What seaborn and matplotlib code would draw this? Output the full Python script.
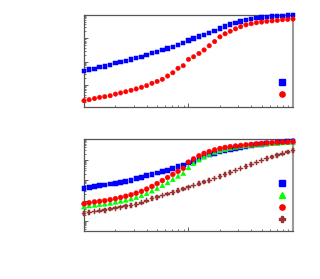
import numpy as np
import pandas as pd
import seaborn as sns
import matplotlib.pyplot as plt
from matplotlib.lines import Line2D
from matplotlib.ticker import LogLocator, NullFormatter

# x grid (shared by every series)
x_vals = [0.1, 0.112, 0.126, 0.141, 0.158, 0.178, 0.2, 0.224, 0.251, 0.282,
          0.316, 0.355, 0.398, 0.447, 0.501, 0.562, 0.631, 0.708, 0.794, 0.891,
          1.0, 1.12, 1.26, 1.41, 1.58, 1.78, 2.0, 2.24, 2.51, 2.82,
          3.16, 3.55, 3.98, 4.47, 5.01, 5.62, 6.31, 7.08, 7.94, 8.91, 10.0]

# y values, given as log10(y)
top_blue = [-2.40, -2.34, -2.30, -2.23, -2.20, -2.13, -2.06, -2.01, -1.96, -1.90,
            -1.84, -1.79, -1.72, -1.63, -1.59, -1.50, -1.43, -1.36, -1.28, -1.19,
            -1.10, -1.01, -0.93, -0.85, -0.77, -0.70, -0.58, -0.50, -0.41, -0.34,
            -0.28, -0.23, -0.18, -0.14, -0.11, -0.09, -0.07, -0.06, -0.04, -0.03, -0.02]
top_red = [-3.66, -3.62, -3.57, -3.52, -3.49, -3.45, -3.38, -3.33, -3.28, -3.22,
           -3.16, -3.09, -3.02, -2.92, -2.84, -2.75, -2.61, -2.47, -2.28, -2.17,
           -1.90, -1.79, -1.65, -1.50, -1.32, -1.14, -0.94, -0.81, -0.70, -0.60,
           -0.51, -0.43, -0.38, -0.34, -0.31, -0.28, -0.26, -0.24, -0.21, -0.20, -0.18]

bot_blue = [-2.43, -2.38, -2.32, -2.27, -2.24, -2.19, -2.15, -2.10, -2.05, -2.00,
            -1.94, -1.86, -1.79, -1.71, -1.65, -1.58, -1.51, -1.43, -1.35, -1.26,
            -1.16, -1.07, -0.96, -0.86, -0.77, -0.69, -0.62, -0.56, -0.50, -0.45,
            -0.40, -0.35, -0.31, -0.27, -0.24, -0.21, -0.18, -0.15, -0.13, -0.11, -0.10]
bot_green = [-3.30, -3.25, -3.22, -3.19, -3.16, -3.12, -3.07, -3.02, -2.97, -2.91,
             -2.84, -2.75, -2.65, -2.52, -2.40, -2.26, -2.12, -1.96, -1.80, -1.66,
             -1.38, -1.18, -1.00, -0.85, -0.73, -0.63, -0.55, -0.49, -0.43, -0.38,
             -0.34, -0.31, -0.28, -0.26, -0.24, -0.21, -0.20, -0.18, -0.16, -0.15, -0.13]
bot_red = [-3.16, -3.11, -3.07, -3.04, -3.01, -2.96, -2.91, -2.85, -2.79, -2.72,
           -2.64, -2.55, -2.44, -2.31, -2.17, -2.02, -1.87, -1.72, -1.57, -1.42,
           -1.12, -0.96, -0.81, -0.69, -0.60, -0.52, -0.45, -0.40, -0.36, -0.33,
           -0.30, -0.27, -0.25, -0.23, -0.20, -0.18, -0.17, -0.15, -0.14, -0.13, -0.12]
bot_brown = [-3.63, -3.58, -3.53, -3.50, -3.47, -3.42, -3.38, -3.33, -3.28, -3.24,
             -3.19, -3.11, -3.01, -2.91, -2.84, -2.76, -2.68, -2.60, -2.52, -2.44,
             -2.35, -2.26, -2.18, -2.09, -2.01, -1.92, -1.82, -1.73, -1.62, -1.52,
             -1.43, -1.33, -1.23, -1.13, -1.03, -0.95, -0.87, -0.78, -0.71, -0.62, -0.54]

colors = {"a": "#0000ff", "b": "#00ff00", "c": "#ff0000", "d": "#993333"}
markers = {"a": "s", "b": "^", "c": "o", "d": "P"}


def make_df(series):
    frames = []
    for name, logs in series.items():
        frames.append(pd.DataFrame({"x": x_vals, "y": np.power(10.0, logs), "s": name}))
    return pd.concat(frames, ignore_index=True)


top_df = make_df({"a": top_blue, "c": top_red})
bot_df = make_df({"a": bot_blue, "b": bot_green, "c": bot_red, "d": bot_brown})

sns.set_style("ticks")
fig = plt.figure(figsize=(3.2, 2.79), dpi=100)
ax1 = fig.add_axes([0.2625, 0.6165, 0.653, 0.3305])
ax2 = fig.add_axes([0.2625, 0.1731, 0.653, 0.3276])

panels = [(ax1, top_df, 10 ** -3.93, 10, 0.027),
          (ax2, bot_df, 10 ** -4.48, 12, 0.005)]

for ax, df, ylo, msize, leg_y in panels:
    names = list(df["s"].unique())
    sns.scatterplot(data=df, x="x", y="y", hue="s", style="s",
                    palette={n: colors[n] for n in names},
                    markers={n: markers[n] for n in names},
                    s=msize, linewidth=0.35, edgecolor="face", legend=False,
                    clip_on=False, ax=ax, zorder=3)
    ax.set_xscale("log")
    ax.set_yscale("log")
    ax.set_xlim(0.1, 10)
    ax.set_ylim(ylo, 1)
    ax.set_xlabel("")
    ax.set_ylabel("")
    ax.yaxis.set_major_locator(LogLocator(base=10, numticks=12))
    ax.yaxis.set_minor_locator(LogLocator(base=10, subs=np.arange(2, 10), numticks=12))
    ax.yaxis.set_minor_formatter(NullFormatter())
    ax.tick_params(which="both", direction="in", labelbottom=False, labelleft=False,
                   color="#444444")
    ax.tick_params(which="major", length=3, width=0.6)
    ax.tick_params(which="minor", length=1.6, width=0.5)
    for sp in ax.spines.values():
        sp.set_color("#555555")
        sp.set_linewidth(0.9)
    ax.spines["right"].set_color("#999999")
    ax.spines["right"].set_linewidth(1.5)

    handles = [Line2D([], [], linestyle="", marker=markers[n], color=colors[n],
                      markersize=3.8) for n in names]
    ax.legend(handles, [""] * len(names), loc="lower right",
              bbox_to_anchor=(0.99, leg_y), frameon=False, fontsize=6,
              handlelength=0.8, handletextpad=0.0, labelspacing=0.37,
              borderpad=0.2)

fig.savefig("out.png", dpi=100, facecolor="white")
